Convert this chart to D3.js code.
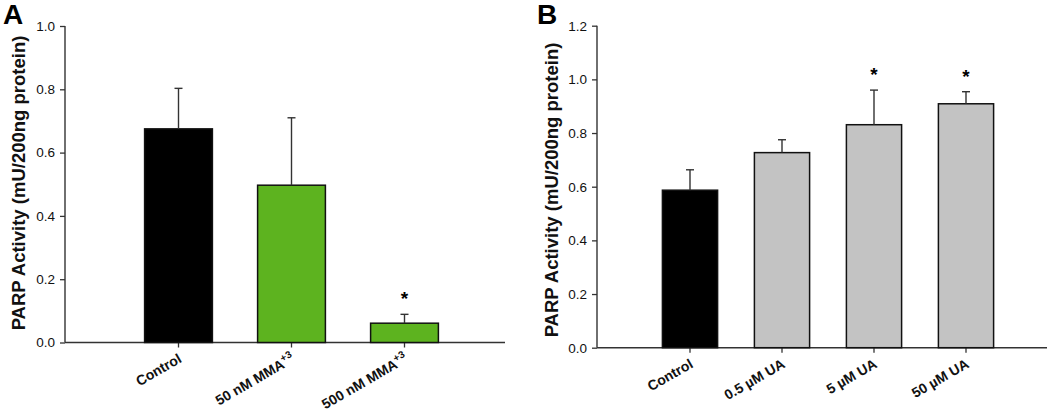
<!DOCTYPE html>
<html><head><meta charset="utf-8">
<script src="https://cdn.jsdelivr.net/npm/d3@7"></script>
<style>body{margin:0;background:#fff}svg{display:block}text{font-family:"Liberation Sans",Arial,sans-serif}</style>
</head><body>
<svg id="c" width="1050" height="412"></svg>
<script>
// Panel A data
const catsA = ["Control", "50 nM MMA", "500 nM MMA"];
const supA = ["", "+3", "+3"];
const valsA = [0.675, 0.497, 0.061];
const errA = [0.128, 0.213, 0.028];
const sigA = [false, false, true];
const colorsA = ["#000000", "#5db31f", "#5db31f"];
const ticksA = [0.0, 0.2, 0.4, 0.6, 0.8, 1.0];

// Panel B data
const catsB = ["Control", "0.5 \u00b5M UA", "5 \u00b5M UA", "50 \u00b5M UA"];
const valsB = [0.587, 0.727, 0.831, 0.909];
const errB = [0.076, 0.048, 0.129, 0.045];
const sigB = [false, false, true, true];
const colorsB = ["#000000", "#c3c3c3", "#c3c3c3", "#c3c3c3"];
const ticksB = [0.0, 0.2, 0.4, 0.6, 0.8, 1.0, 1.2];

const yTitle = "PARP Activity (mU/200ng protein)";

const svg = d3.select("#c");

function panel(o) {
  const g = svg.append("g");
  const y = d3.scaleLinear().domain([0, o.ymax]).range([o.y0, o.y1]);
  const x = d3.scaleBand().domain(o.cats).range(o.bandRange).paddingInner(0.4).paddingOuter(0.2);
  // y axis
  const yAx = g.append("g").attr("transform", `translate(${o.ax0},0)`)
    .call(d3.axisLeft(y).tickValues(o.ticks).tickFormat(d3.format(".1f")).tickSize(5).tickPadding(5));
  yAx.select(".domain").remove();
  yAx.selectAll(".tick line").attr("stroke", "#333").attr("stroke-width", 1.3);
  yAx.selectAll(".tick text").attr("fill", "#111").style("font-size", "13.5px").style("font-family", "'Liberation Sans',Arial,sans-serif");
  g.append("line").attr("x1", o.ax0).attr("x2", o.ax0).attr("y1", y(0)).attr("y2", y(o.ymax))
    .attr("stroke", "#333").attr("stroke-width", 1.4);
  // x axis
  const xAx = g.append("g").attr("transform", `translate(0,${y(0)})`)
    .call(d3.axisBottom(x).tickSize(5).tickFormat(""));
  xAx.select(".domain").remove();
  xAx.selectAll(".tick line").attr("stroke", "#333").attr("stroke-width", 1.3);
  g.append("line").attr("x1", o.ax0).attr("x2", o.ax1).attr("y1", y(0)).attr("y2", y(0))
    .attr("stroke", "#333").attr("stroke-width", 1.4);
  // bars
  g.selectAll("rect.bar").data(o.vals).enter().append("rect")
    .attr("x", (d, i) => x(o.cats[i])).attr("width", x.bandwidth())
    .attr("y", d => y(d)).attr("height", d => y(0) - y(d))
    .attr("fill", (d, i) => o.colors[i]).attr("stroke", "#111").attr("stroke-width", 1.5);
  // error bars
  const cx = i => x(o.cats[i]) + x.bandwidth() / 2;
  g.selectAll("line.err").data(o.vals).enter().append("line")
    .attr("x1", (d, i) => cx(i)).attr("x2", (d, i) => cx(i))
    .attr("y1", d => y(d)).attr("y2", (d, i) => y(d + o.errs[i]))
    .attr("stroke", "#333").attr("stroke-width", 1.4);
  g.selectAll("line.cap").data(o.vals).enter().append("line")
    .attr("x1", (d, i) => cx(i) - 4).attr("x2", (d, i) => cx(i) + 4)
    .attr("y1", (d, i) => y(d + o.errs[i])).attr("y2", (d, i) => y(d + o.errs[i]))
    .attr("stroke", "#333").attr("stroke-width", 1.4);
  // stars
  o.vals.forEach((d, i) => {
    if (o.sig[i]) g.append("text").attr("x", cx(i)).attr("y", y(d + o.errs[i]) - 9)
      .attr("text-anchor", "middle").style("font-size", "19px").style("font-weight", "bold").text("*");
  });
  // x labels
  o.cats.forEach((c, i) => {
    const t = g.append("text")
      .attr("transform", `translate(${cx(i) + 4},${y(0) + 19}) rotate(-30)`)
      .attr("text-anchor", "end").style("font-size", "14px").style("font-weight", "bold").attr("fill", "#111");
    t.append("tspan").text(c);
    if (o.sups && o.sups[i]) t.append("tspan").attr("dy", "-6").style("font-size", "10px").text(o.sups[i]);
  });
  // y title
  g.append("text").attr("transform", `translate(${o.titleX},${o.titleY}) rotate(-90)`)
    .attr("text-anchor", "middle").style("font-size", "18.5px").style("font-weight", "bold").attr("fill", "#111")
    .text(yTitle);
  // panel letter
  g.append("text").attr("x", o.letterX).attr("y", 24).style("font-size", "28px").style("font-weight", "bold")
    .attr("fill", "#000").text(o.letter);
}

panel({cats: catsA, sups: supA, vals: valsA, errs: errA, sig: sigA, colors: colorsA, ticks: ticksA,
  ymax: 1.0, y0: 342.5, y1: 26, ax0: 65, ax1: 505, bandRange: [122, 461],
  titleX: 25, titleY: 183, letter: "A", letterX: 3});
panel({cats: catsB, vals: valsB, errs: errB, sig: sigB, colors: colorsB, ticks: ticksB,
  ymax: 1.2, y0: 347.7, y1: 25.7, ax0: 597, ax1: 1047, bandRange: [644, 1012],
  titleX: 558, titleY: 190, letter: "B", letterX: 537});
</script>
</body></html>
